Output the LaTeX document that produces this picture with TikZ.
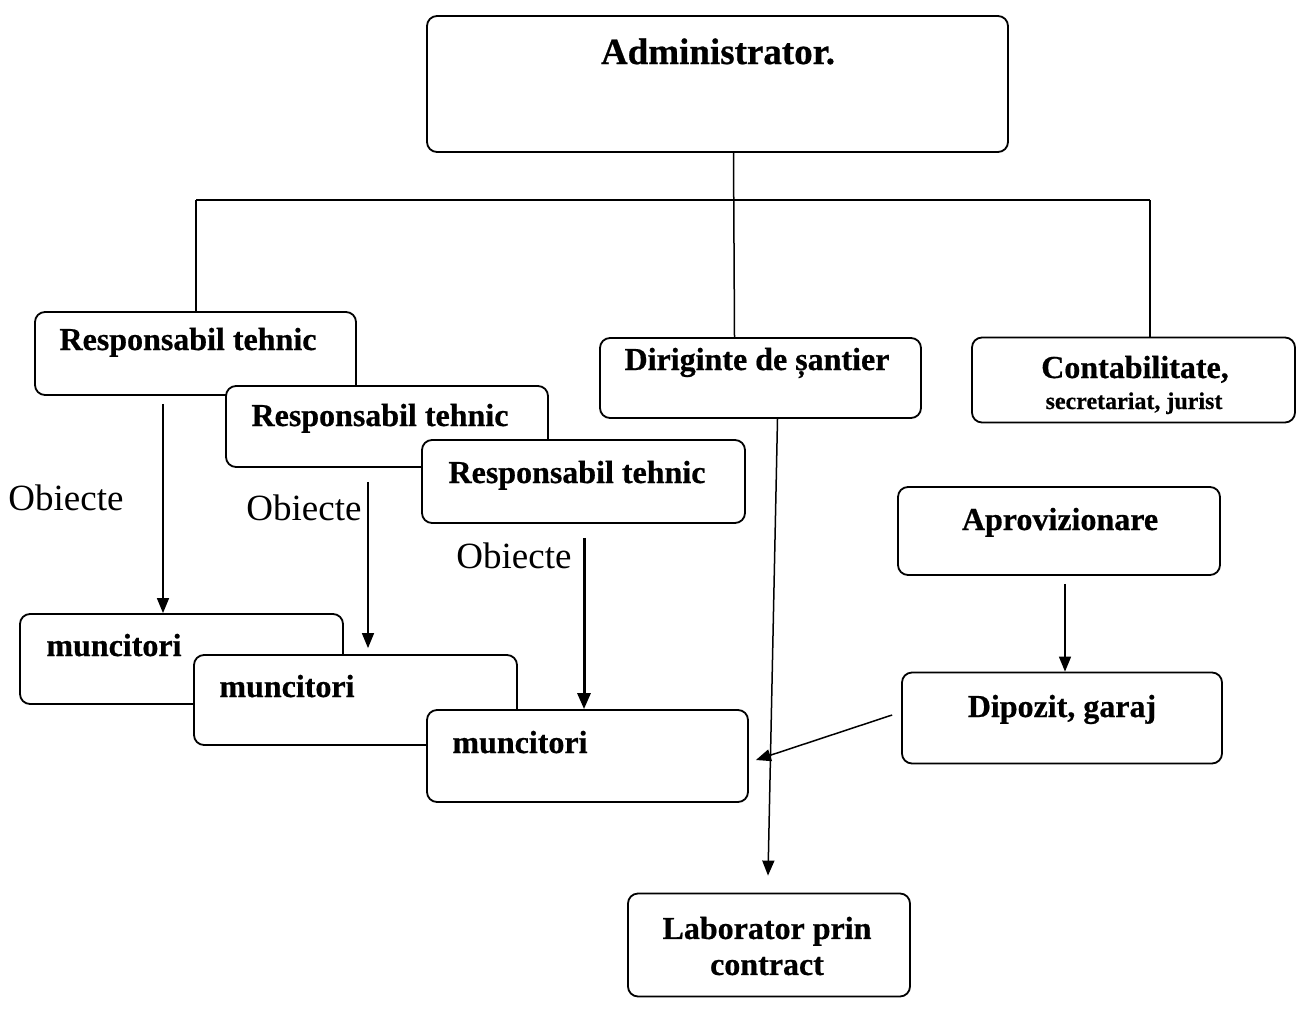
\documentclass[tikz,border=0pt]{standalone}
\usepackage{fontspec}
\setmainfont{Liberation Serif}[BoldFeatures={FakeBold=0.6}]
\usetikzlibrary{arrows.meta}
\begin{document}
\begin{tikzpicture}[x=1pt,y=-1pt,
  box/.style={draw, line width=1.8pt, rounded corners=10pt, fill=white, inner sep=0pt},
  lbl/.style={font=\bfseries\fontsize{32}{36}\selectfont, anchor=base, inner sep=0pt},
  small/.style={font=\bfseries\fontsize{24}{27}\selectfont, anchor=base, inner sep=0pt},
  obj/.style={font=\fontsize{37}{40}\selectfont, anchor=base, inner sep=0pt},
  link/.style={line width=1.5pt},
  arr/.style={line width=1.5pt, -{Triangle[length=15pt,width=12pt]}},
  arrthick/.style={line width=3pt, -{Triangle[length=16pt,width=13pt]}}]
\fill[white] (0,0) rectangle (1303,1012);
\useasboundingbox (0,0) rectangle (1303,1012);

% top
\node[box, minimum width=581pt, minimum height=136pt] (admin) at (717.5,84) {};
\node[lbl, font=\bfseries\fontsize{37}{40}\selectfont] (tadmin) at (718,64) {Administrator.};

% left cascade: responsabili
\node[box, minimum width=321pt, minimum height=83pt] (r1) at (195.5,353.5) {};
\node[lbl] (tr1) at (188,350) {Responsabil tehnic};
\node[box, minimum width=322pt, minimum height=81pt] (r2) at (387,426.5) {};
\node[lbl] (tr2) at (380,426) {Responsabil tehnic};
\node[box, minimum width=323pt, minimum height=83pt] (r3) at (583.5,481.5) {};
\node[lbl] (tr3) at (577,483) {Responsabil tehnic};

% muncitori
\node[box, minimum width=323pt, minimum height=90pt] (m1) at (181.5,659) {};
\node[lbl] (tm1) at (114,656) {muncitori};
\node[box, minimum width=323pt, minimum height=90pt] (m2) at (355.5,700) {};
\node[lbl] (tm2) at (287,697) {muncitori};
\node[box, minimum width=321pt, minimum height=92pt] (m3) at (587.5,756) {};
\node[lbl] (tm3) at (520,753) {muncitori};

% Obiecte labels
\node[obj] (o1) at (66,510) {Obiecte};
\node[obj] (o2) at (304,520) {Obiecte};
\node[obj] (o3) at (514,568) {Obiecte};

% right side
\node[box, minimum width=321pt, minimum height=80pt] (dir) at (760.5,378) {};
\node[lbl] (tdir) at (757,370) {Diriginte de șantier};
\node[box, minimum width=323pt, minimum height=85pt] (cont) at (1133.5,380) {};
\node[lbl] (tcont) at (1135,378) {Contabilitate,};
\node[small] (tsec) at (1134,409) {secretariat, jurist};
\node[box, minimum width=322pt, minimum height=88pt] (aprov) at (1059,531) {};
\node[lbl] (taprov) at (1060,530) {Aprovizionare};
\node[box, minimum width=320pt, minimum height=91pt] (dep) at (1062,718) {};
\node[lbl] (tdep) at (1062,717) {Dipozit, garaj};
\node[box, minimum width=282pt, minimum height=103pt] (lab) at (769,945) {};
\node[lbl, align=center, anchor=center] (tlab) at (767,946) {Laborator prin\\[0pt]contract};

% hierarchy connectors
\coordinate (barL) at (196,200);
\coordinate (barR) at (1150,200);
\draw[link] (barL) -- (barR);
\draw[link] (barL) -- (barL |- r1.north);
\draw[link] (barR) -- (barR |- cont.north);
\draw[link] ([xshift=16pt]admin.south) -- ([xshift=-26pt]dir.north);

% arrows
\draw[arr, shorten <=8pt] ([xshift=-32.5pt]r1.south) -- ([xshift=-18.5pt]m1.north);
\draw[arr, shorten <=14pt, shorten >=6pt] ([xshift=-19pt]r2.south) -- ([xshift=12.5pt]m2.north);
\draw[arrthick, shorten <=14pt] ([xshift=0.5pt]r3.south) -- ([xshift=-3.5pt]m3.north);
\draw[arr, shorten <=8pt] ([xshift=6pt]aprov.south) -- ([xshift=3pt]dep.north);
\draw[arr] ([xshift=-9pt,yshift=3pt]dep.west) -- ([xshift=7pt,yshift=-4pt]m3.east);
\draw[arr] ([xshift=17pt]dir.south) -- ([xshift=-1pt,yshift=17pt]lab.north);
\end{tikzpicture}
\end{document}
